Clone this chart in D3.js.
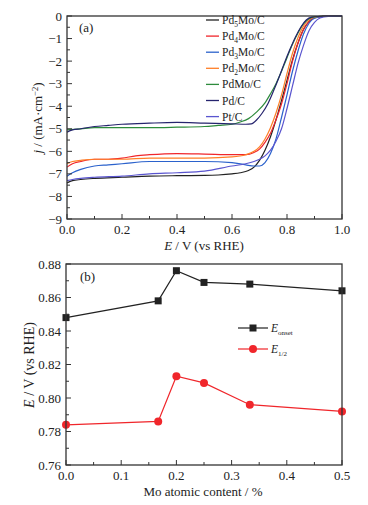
<!DOCTYPE html>
<html>
<head>
<meta charset="utf-8">
<script src="https://cdn.jsdelivr.net/npm/d3@7"></script>
<style>
  body { margin: 0; background: #fff; }
  text { font-family: "Liberation Serif", "Times New Roman", serif; fill: #222; }
</style>
</head>
<body>
<svg width="368" height="505"></svg>
<script>
// ---- panel (a): LSV curves, [E, j]
const pd5mo = [[0,-7.4],[0.02,-7.3],[0.05,-7.25],[0.1,-7.2],[0.2,-7.15],[0.3,-7.1],[0.4,-7.08],[0.5,-7.07],[0.55,-7.05],[0.6,-7.0],[0.63,-6.95],[0.66,-6.85],[0.68,-6.7],[0.7,-6.4],[0.72,-5.95],[0.74,-5.35],[0.76,-4.6],[0.78,-3.75],[0.8,-2.85],[0.82,-1.95],[0.84,-1.2],[0.86,-0.6],[0.88,-0.25],[0.9,-0.08],[0.93,-0.02],[0.96,0],[1,0]];
const pd4mo = [[0,-6.7],[0.02,-6.55],[0.05,-6.45],[0.1,-6.35],[0.15,-6.35],[0.2,-6.3],[0.25,-6.2],[0.3,-6.15],[0.4,-6.1],[0.5,-6.12],[0.6,-6.15],[0.65,-6.15],[0.68,-6.05],[0.7,-5.9],[0.72,-5.6],[0.74,-5.2],[0.76,-4.6],[0.78,-3.9],[0.8,-3.0],[0.82,-2.0],[0.84,-1.2],[0.86,-0.6],[0.88,-0.25],[0.9,-0.08],[0.93,-0.02],[0.96,0],[1,0]];
const pd3mo = [[0,-7.1],[0.02,-6.95],[0.05,-6.8],[0.1,-6.65],[0.15,-6.6],[0.2,-6.55],[0.3,-6.45],[0.4,-6.45],[0.5,-6.45],[0.6,-6.5],[0.65,-6.6],[0.68,-6.65],[0.7,-6.65],[0.72,-6.5],[0.74,-6.1],[0.76,-5.45],[0.78,-4.5],[0.8,-3.5],[0.82,-2.45],[0.84,-1.55],[0.86,-0.8],[0.88,-0.32],[0.9,-0.1],[0.93,-0.02],[0.96,0],[1,0]];
const pd2mo = [[0,-6.55],[0.02,-6.45],[0.05,-6.4],[0.1,-6.35],[0.2,-6.35],[0.3,-6.3],[0.4,-6.3],[0.5,-6.3],[0.6,-6.25],[0.65,-6.15],[0.68,-6.0],[0.7,-5.8],[0.72,-5.45],[0.74,-4.95],[0.76,-4.3],[0.78,-3.5],[0.8,-2.55],[0.82,-1.65],[0.84,-0.95],[0.86,-0.45],[0.88,-0.16],[0.9,-0.05],[0.93,-0.01],[1,0]];
const pdmo = [[0,-5.05],[0.05,-5.0],[0.1,-4.95],[0.2,-4.95],[0.3,-4.95],[0.4,-4.93],[0.5,-4.9],[0.55,-4.85],[0.6,-4.8],[0.63,-4.7],[0.66,-4.55],[0.69,-4.25],[0.72,-3.85],[0.74,-3.45],[0.76,-3.0],[0.78,-2.45],[0.8,-1.85],[0.82,-1.25],[0.84,-0.75],[0.86,-0.35],[0.88,-0.12],[0.9,-0.04],[0.93,-0.01],[1,0]];
const pd = [[0,-5.15],[0.02,-5.05],[0.05,-5.0],[0.1,-4.9],[0.15,-4.85],[0.2,-4.8],[0.3,-4.75],[0.4,-4.72],[0.5,-4.75],[0.6,-4.78],[0.65,-4.8],[0.67,-4.78],[0.69,-4.6],[0.71,-4.3],[0.73,-3.9],[0.75,-3.35],[0.77,-2.75],[0.79,-2.1],[0.81,-1.5],[0.83,-0.95],[0.85,-0.5],[0.87,-0.18],[0.89,-0.05],[0.92,-0.01],[0.95,0],[1,0]];
const ptc = [[0,-7.3],[0.02,-7.25],[0.05,-7.2],[0.1,-7.15],[0.2,-7.1],[0.3,-7.0],[0.4,-6.95],[0.5,-6.88],[0.6,-6.65],[0.65,-6.55],[0.68,-6.45],[0.7,-6.35],[0.72,-6.2],[0.74,-5.95],[0.76,-5.55],[0.78,-5.0],[0.8,-4.1],[0.82,-3.1],[0.84,-2.1],[0.86,-1.3],[0.88,-0.65],[0.9,-0.28],[0.92,-0.09],[0.95,-0.02],[1,0]];

const seriesA = [
  {sub: "5", data: pd5mo, color: "#222222"},
  {sub: "4", data: pd4mo, color: "#f0262b"},
  {sub: "3", data: pd3mo, color: "#2b62cc"},
  {sub: "2", data: pd2mo, color: "#ff7f27"},
  {sub: "",  data: pdmo,  color: "#2e8b3c", name: "PdMo/C"},
  {sub: "",  data: pd,    color: "#26246e", name: "Pd/C"},
  {sub: "",  data: ptc,   color: "#5a55cf", name: "Pt/C"}
];

// ---- panel (b): onset / half-wave potentials
const moContent = [0, 0.167, 0.2, 0.25, 0.333, 0.5];
const eOnset = [0.848, 0.858, 0.876, 0.869, 0.868, 0.864];
const eHalf = [0.784, 0.786, 0.813, 0.809, 0.796, 0.792];

const svg = d3.select("svg");

// generic framed axes with inward ticks
function frame(g, x, y, xMajor, xMinor, yMajor, yMinor, xFmt, yFmt) {
  const [x0, x1] = x.range(), [y0, y1] = y.range();
  g.append("rect")
    .attr("x", x0).attr("y", y1)
    .attr("width", x1 - x0).attr("height", y0 - y1)
    .attr("fill", "none").attr("stroke", "#333").attr("stroke-width", 1.3);

  xMinor.forEach(v => g.append("line")
    .attr("x1", x(v)).attr("x2", x(v)).attr("y1", y0).attr("y2", y0 - 3)
    .attr("stroke", "#333"));
  xMajor.forEach(v => {
    g.append("line")
      .attr("x1", x(v)).attr("x2", x(v)).attr("y1", y0).attr("y2", y0 - 5)
      .attr("stroke", "#333");
    g.append("text")
      .attr("x", x(v)).attr("y", y0 + 15)
      .attr("text-anchor", "middle").style("font-size", "13px")
      .text(xFmt(v));
  });
  yMinor.forEach(v => g.append("line")
    .attr("x1", x0).attr("x2", x0 + 3).attr("y1", y(v)).attr("y2", y(v))
    .attr("stroke", "#333"));
  yMajor.forEach(v => {
    g.append("line")
      .attr("x1", x0).attr("x2", x0 + 5).attr("y1", y(v)).attr("y2", y(v))
      .attr("stroke", "#333");
    g.append("text")
      .attr("x", x0 - 5).attr("y", y(v) + 4.5)
      .attr("text-anchor", "end").style("font-size", "13px")
      .text(yFmt(v));
  });
}

// ================= panel (a)
const xa = d3.scaleLinear().domain([0, 1]).range([67, 342]);
const ya = d3.scaleLinear().domain([-9, 0]).range([219, 16]);
const ga = svg.append("g");

const lineA = d3.line()
  .x(d => xa(d[0])).y(d => ya(d[1]))
  .curve(d3.curveMonotoneX);

ga.append("g").selectAll("path")
  .data(seriesA)
  .join("path")
    .attr("d", d => lineA(d.data))
    .attr("fill", "none")
    .attr("stroke", d => d.color)
    .attr("stroke-width", 1.2);

frame(ga, xa, ya,
  d3.range(0, 1.01, 0.2), d3.range(0.1, 1, 0.2),
  d3.range(-9, 0.5, 1), d3.range(-8.5, 0, 1),
  d3.format(".1f"), d3.format("d"));

ga.append("text").attr("x", 79).attr("y", 32).style("font-size", "13px").text("(a)");

// legend (a)
const legA = ga.append("g");
seriesA.forEach((s, i) => {
  const yy = 20 + i * 16.1;
  legA.append("line")
    .attr("x1", 206).attr("x2", 219).attr("y1", yy).attr("y2", yy)
    .attr("stroke", s.color).attr("stroke-width", 1.3);
  const t = legA.append("text").attr("x", 222).attr("y", yy + 4).style("font-size", "11.5px");
  if (s.sub) {
    t.append("tspan").text("Pd");
    t.append("tspan").attr("dy", 2.5).style("font-size", "7.5px").text(s.sub);
    t.append("tspan").attr("dy", -2.5).text("Mo/C");
  } else {
    t.text(s.name);
  }
});

// axis titles (a)
const xtA = ga.append("text").attr("x", 204).attr("y", 250)
  .attr("text-anchor", "middle").style("font-size", "13px");
xtA.append("tspan").style("font-style", "italic").text("E");
xtA.append("tspan").text(" / V (vs RHE)");

const ytA = ga.append("text")
  .attr("transform", "translate(42,118) rotate(-90)")
  .attr("text-anchor", "middle").style("font-size", "13px");
ytA.append("tspan").style("font-style", "italic").text("j");
ytA.append("tspan").text(" / (mA\u00b7cm");
ytA.append("tspan").attr("dy", -4).style("font-size", "8.5px").text("\u22122");
ytA.append("tspan").attr("dy", 4).text(")");

// ================= panel (b)
const xb = d3.scaleLinear().domain([0, 0.5]).range([66, 342]);
const yb = d3.scaleLinear().domain([0.76, 0.88]).range([465, 264]);
const gb = svg.append("g");

const onsetPts = moContent.map((m, i) => [m, eOnset[i]]);
const halfPts = moContent.map((m, i) => [m, eHalf[i]]);
const lineB = d3.line().x(d => xb(d[0])).y(d => yb(d[1]));

gb.append("path").attr("d", lineB(onsetPts))
  .attr("fill", "none").attr("stroke", "#222").attr("stroke-width", 1.2);
gb.append("path").attr("d", lineB(halfPts))
  .attr("fill", "none").attr("stroke", "#f0262b").attr("stroke-width", 1.2);

gb.append("g").selectAll("rect")
  .data(onsetPts)
  .join("rect")
    .attr("x", d => xb(d[0]) - 3.5).attr("y", d => yb(d[1]) - 3.5)
    .attr("width", 7).attr("height", 7)
    .attr("fill", "#222");
gb.append("g").selectAll("circle")
  .data(halfPts)
  .join("circle")
    .attr("cx", d => xb(d[0])).attr("cy", d => yb(d[1]))
    .attr("r", 4)
    .attr("fill", "#f0262b");

frame(gb, xb, yb,
  d3.range(0, 0.51, 0.1), d3.range(0.05, 0.5, 0.1),
  d3.range(0.76, 0.881, 0.02), d3.range(0.77, 0.88, 0.02),
  d3.format(".1f"), d3.format(".2f"));

gb.append("text").attr("x", 80).attr("y", 281).style("font-size", "13px").text("(b)");

// legend (b)
const legB = [
  {label: "onset", color: "#222", shape: "square", y: 328},
  {label: "1/2", color: "#f0262b", shape: "circle", y: 349}
];
legB.forEach(l => {
  gb.append("line").attr("x1", 238).attr("x2", 268).attr("y1", l.y).attr("y2", l.y)
    .attr("stroke", l.color).attr("stroke-width", 1.2);
  if (l.shape === "square") {
    gb.append("rect").attr("x", 249.5).attr("y", l.y - 3.5).attr("width", 7).attr("height", 7).attr("fill", l.color);
  } else {
    gb.append("circle").attr("cx", 253).attr("cy", l.y).attr("r", 4).attr("fill", l.color);
  }
  const t = gb.append("text").attr("x", 271).attr("y", l.y + 4).style("font-size", "11.5px");
  t.append("tspan").style("font-style", "italic").text("E");
  t.append("tspan").attr("dy", 2.5).style("font-size", "7px").text(l.label);
});

// axis titles (b)
gb.append("text").attr("x", 203).attr("y", 496)
  .attr("text-anchor", "middle").style("font-size", "13px")
  .text("Mo atomic content / %");

const ytB = gb.append("text")
  .attr("transform", "translate(34,365) rotate(-90)")
  .attr("text-anchor", "middle").style("font-size", "14px");
ytB.append("tspan").style("font-style", "italic").text("E");
ytB.append("tspan").text(" / V (vs RHE)");
</script>
</body>
</html>
